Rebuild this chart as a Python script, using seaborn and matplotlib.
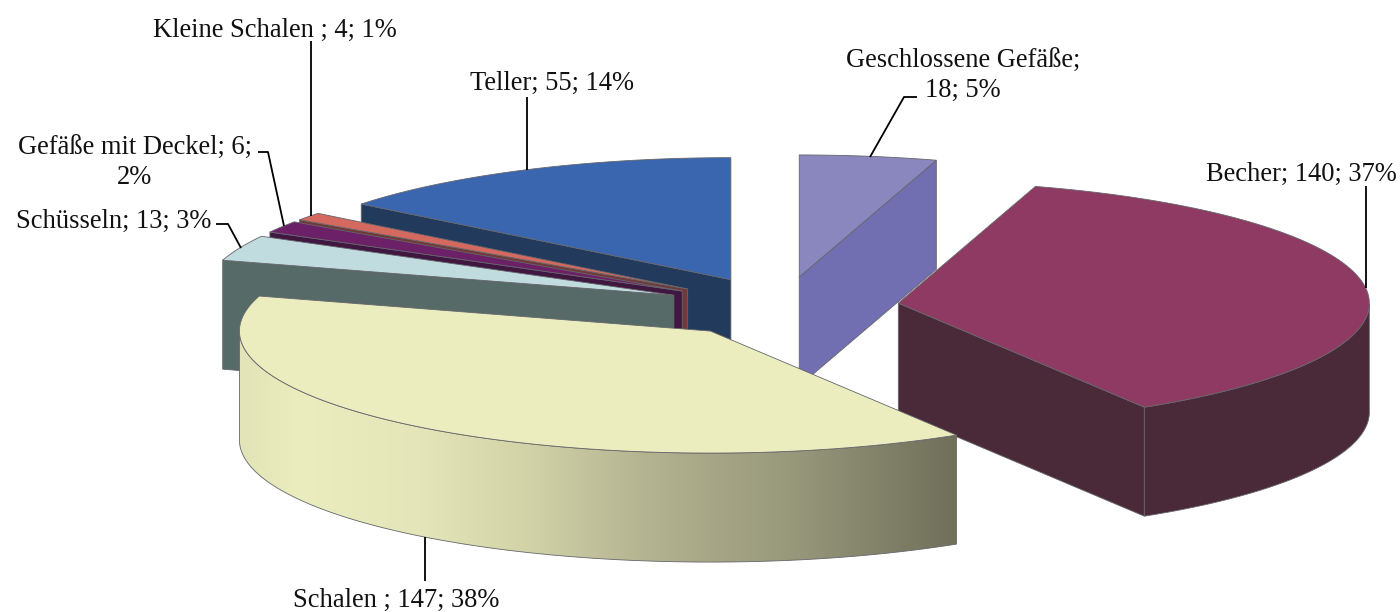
import numpy as np
import matplotlib
matplotlib.use("Agg")
import matplotlib.pyplot as plt
from matplotlib.colors import to_rgb
from matplotlib.patches import Polygon
import seaborn as sns

# ---- data -------------------------------------------------------------
categories = ["Geschlossene Gefäße", "Becher", "Schalen ", "Schüsseln",
              "Gefäße mit Deckel", "Kleine Schalen ", "Teller"]
counts = [18, 140, 147, 13, 6, 4, 55]
percents = [5, 37, 38, 3, 2, 1, 14]
top_colors = ["#8a87bf", "#8f3a63", "#ecedbf", "#c1dcdf", "#6b2068", "#d4695f", "#3a66b0"]
side_colors = ["#716eb2", "#4a2a38", "#ecedbf", "#566a68", "#3f1740", "#6f3a38", "#223a5c"]
shade_x = [240, 300, 420, 520, 640, 800, 957]
shade_colors = ["#e2e3b6", "#ecedbf", "#e4e5b8", "#d3d5a9", "#b5b592", "#96967a", "#6f6f5a"]

# ---- pie geometry (in pixels of the figure) -----------------------------
CX, CY, RX, RY, DEPTH, EXPLODE = 782, 307, 471, 122, 109, 0.249
EDGE = "#66666c"
LW = 0.6

sns.set_theme(style="white")
plt.rcParams["font.family"] = ["Liberation Serif", "DejaVu Serif"]

fig = plt.figure(figsize=(14, 6.12), dpi=100)
ax = fig.add_axes([0, 0, 1, 1])
ax.axis("off")
sns.despine(ax=ax, left=True, bottom=True)

edges = 360 * np.cumsum([0] + counts) / sum(counts)


def project(theta_deg, radius=1.0):
    t = np.radians(theta_deg)
    return radius * RX * np.sin(t), -radius * RY * np.cos(t)


def draw_slice(i, z):
    a0, a1 = edges[i], edges[i + 1]
    ex, ey = project((a0 + a1) / 2, EXPLODE)
    ox, oy = CX + ex, CY + ey
    th = np.linspace(a0, a1, 300)
    px, py = project(th)
    px, py = px + ox, py + oy

    # cut faces: only those turned towards the viewer
    show_start = np.sin(np.radians(a0)) < -1e-6
    show_end = np.sin(np.radians(a1)) > 1e-6
    for k, show in ((0, show_start), (-1, show_end)):
        if show:
            ax.fill([ox, px[k], px[k], ox],
                    [oy, py[k], py[k] + DEPTH, oy + DEPTH],
                    facecolor=side_colors[i], edgecolor=EDGE, lw=LW, zorder=z + 0.1)

    # outer wall: front half only
    vis = (th >= 90) & (th <= 270)
    if vis.sum() > 1:
        wx, wy = px[vis], py[vis]
        outline = np.column_stack([np.r_[wx, wx[::-1]], np.r_[wy, wy[::-1] + DEPTH]])
        if categories[i].startswith("Schalen"):
            xs = np.linspace(wx.min(), wx.max(), 700)
            rgb = np.array([to_rgb(c) for c in shade_colors])
            grad = np.stack([np.interp(xs, shade_x, rgb[:, c]) for c in range(3)], axis=-1)[None, :, :]
            img = ax.imshow(grad, extent=(wx.min(), wx.max(), wy.max() + DEPTH, wy.min()),
                            aspect="auto", interpolation="bilinear", zorder=z + 0.2)
            img.set_clip_path(Polygon(outline, transform=ax.transData))
            ax.add_patch(Polygon(outline, closed=True, fill=False, edgecolor=EDGE, lw=LW, zorder=z + 0.25))
        else:
            ax.add_patch(Polygon(outline, closed=True, facecolor=side_colors[i], edgecolor=EDGE,
                                 lw=LW, zorder=z + 0.2))

    # top face
    ax.fill(np.r_[ox, px], np.r_[oy, py], facecolor=top_colors[i], edgecolor=EDGE,
            lw=LW, zorder=z + 0.3)


# back-to-front painter order
for z, s in enumerate([6, 5, 4, 3, 0, 1, 2], start=1):
    draw_slice(s, z)

# ---- labels -------------------------------------------------------------
labels = [f"{c}; {v}; {p}%" for c, v, p in zip(categories, counts, percents)]
labels[0] = f"{categories[0]};\n{counts[0]}; {percents[0]}%"
labels[4] = f"{categories[4]}; {counts[4]};\n{percents[4]}%"
label_pos = [(963, 76), (1301, 174), (396, 600), (114, 221), (135, 163), (275, 30), (552, 83)]
leaders = [
    [(870, 157), (904, 97), (917, 97)],
    [(1366, 288), (1366, 186)],
    [(425, 537), (425, 581)],
    [(241, 248), (228, 224), (216, 224)],
    [(284, 226), (268, 152), (258, 152)],
    [(311, 216), (311, 41)],
    [(527, 170), (527, 97)],
]
for lab, (x, y), line in zip(labels, label_pos, leaders):
    ax.text(x, y, lab, ha="center", va="center", fontsize=19.1, color="#111111",
            linespacing=1.22, zorder=20)
    xs, ys = zip(*line)
    ax.plot(xs, ys, color="black", lw=1.3, zorder=19, solid_capstyle="butt")

ax.set_xlim(0, 1400)
ax.set_ylim(612, 0)
fig.savefig("out.png", dpi=100, facecolor="white")
